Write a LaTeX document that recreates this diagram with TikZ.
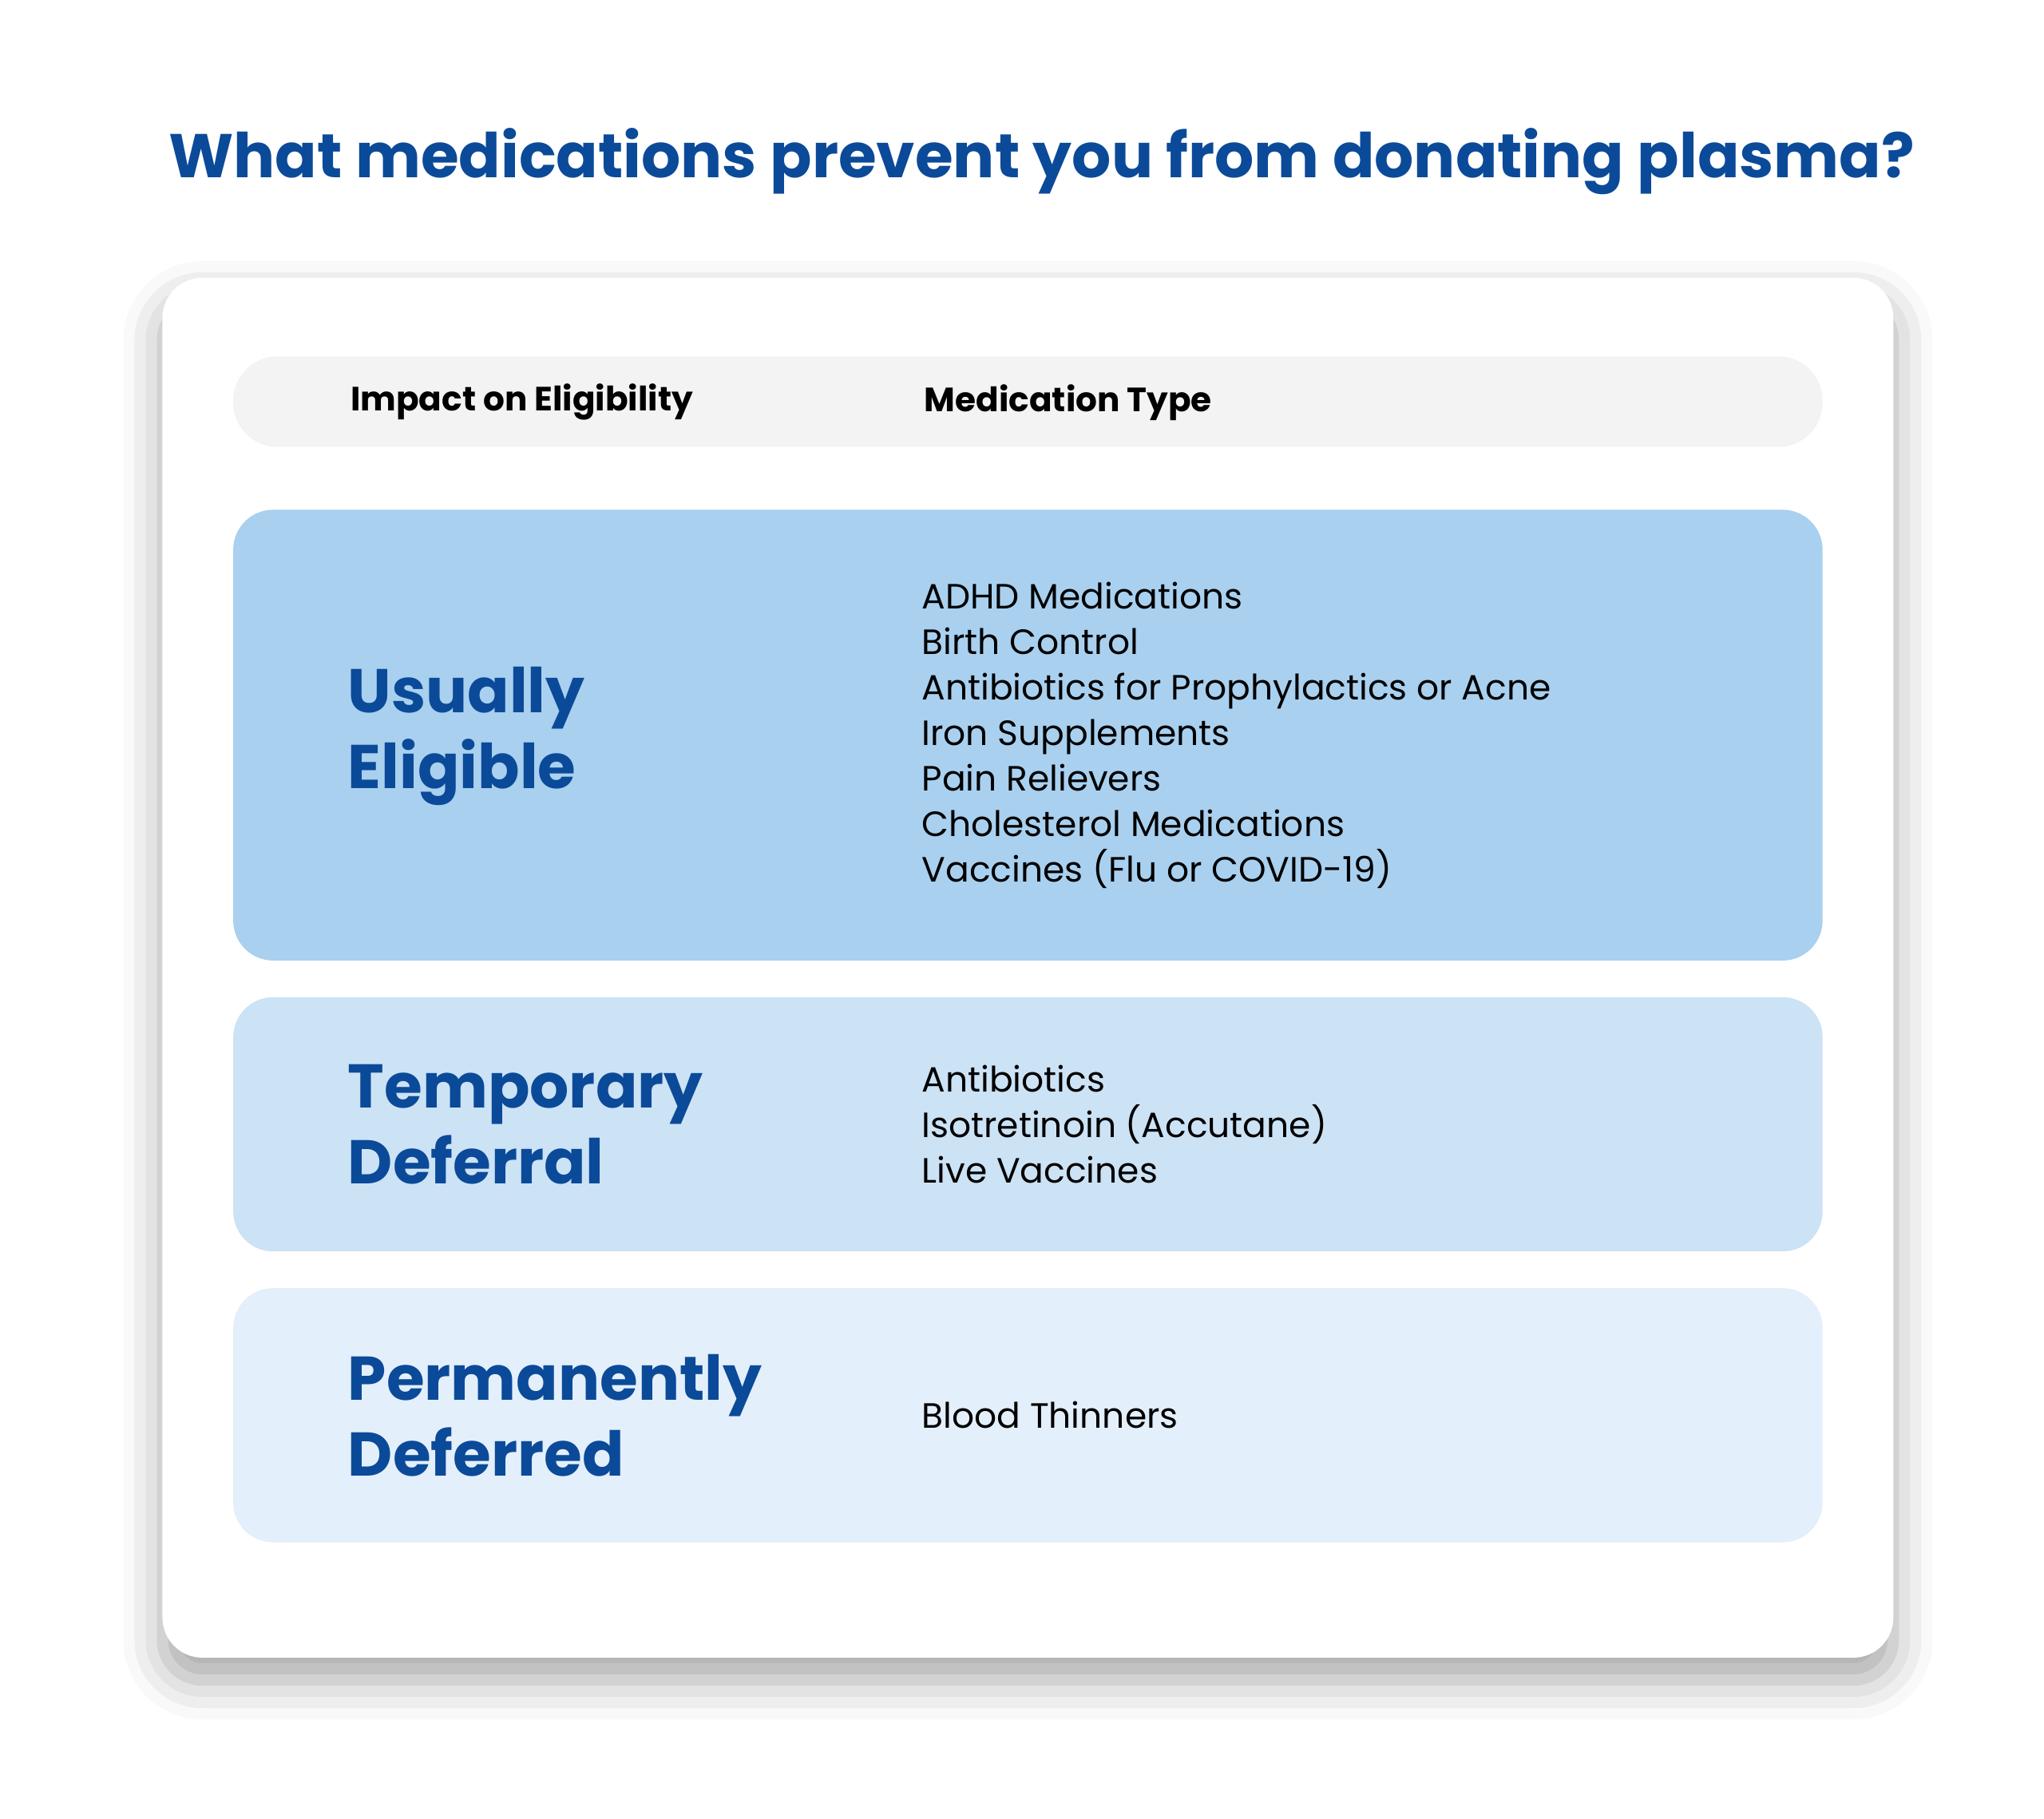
\documentclass[tikz,border=0pt]{standalone}
\usepackage{fontspec}
\setmainfont{Poppins}
\usepackage{xcolor}
\usetikzlibrary{positioning, shadows.blur}
\definecolor{navy}{HTML}{0B4A99}
\definecolor{rowA}{HTML}{A9D0EF}
\definecolor{rowB}{HTML}{CCE2F5}
\definecolor{rowC}{HTML}{E3EFFA}
\definecolor{headgray}{HTML}{F3F3F3}

\begin{document}
\begin{tikzpicture}[
    x=0.01641cm, y=-0.01641cm,
    band/.style={fill=#1, rounded corners=0.5cm},
    biglabel/.style={anchor=west, align=left, text=navy, font=\fontsize{22}{27}\selectfont\bfseries},
    medlist/.style={anchor=west, align=left, font=\fontsize{12.5}{16.2}\selectfont},
    headtext/.style={anchor=west, font=\fontsize{12}{14}\selectfont\bfseries}
]
\useasboundingbox (0,0) rectangle (1560,1388);

% Title
\node[text=navy, font=\fontsize{22}{26}\selectfont\bfseries] (title) at (795,123) {What medications prevent you from donating plasma?};

% Card
\fill[white, rounded corners=0.5cm, blur shadow={shadow xshift=0pt, shadow yshift=-8pt, shadow blur radius=14pt, shadow opacity=35}] (124,212) rectangle (1445,1265);

% Header
\fill[headgray, rounded corners=0.55cm] (178,272) rectangle (1391,341);
\node[headtext] (hleft) at (260,307) {Impact on Eligibility};
\node[headtext] (hright) at (698,307) {Medication Type};

% Rows
\fill[band=rowA] (178,389) rectangle (1391,733);
\fill[band=rowB] (178,761) rectangle (1391,955);
\fill[band=rowC] (178,983) rectangle (1391,1177);

% Usually eligible
\node[biglabel] (usual) at (258,562) {Usually\\Eligible};
\node[medlist] (usuallist) at (696,561) {ADHD Medications\\Birth Control\\Antibiotics for Prophylactics or Acne\\Iron Supplements\\Pain Relievers\\Cholesterol Medications\\Vaccines (Flu or COVID-19)};

% Temporary deferral
\node[biglabel] (temp) at (258,858) {Temporary\\Deferral};
\node[medlist] (templist) at (696,858) {Antibiotics\\Isotretinoin (Accutane)\\Live Vaccines};

% Permanently deferred
\node[biglabel] (perm) at (258,1080) {Permanently\\Deferred};
\node[medlist] (permlist) at (696,1080) {Blood Thinners};

\end{tikzpicture}
\end{document}
